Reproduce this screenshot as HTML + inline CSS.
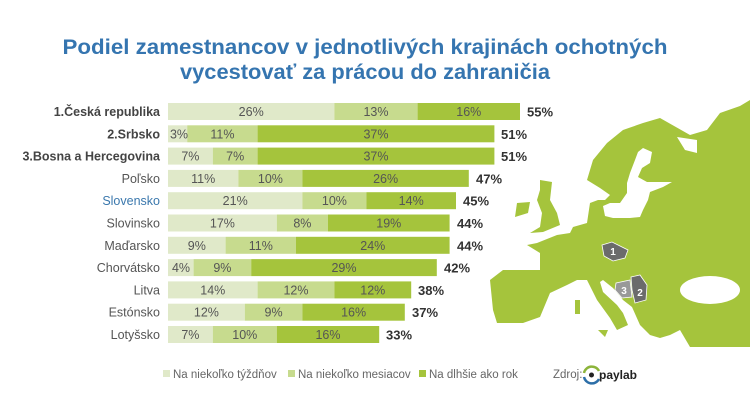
<!DOCTYPE html>
<html><head><meta charset="utf-8"><style>
html,body{margin:0;padding:0;background:#fff;}
svg{display:block;font-family:"Liberation Sans",sans-serif;}
.l{font-size:12.5px;fill:#555;text-anchor:end}
.b{font-weight:bold;fill:#444}
.v{font-size:12.5px;fill:#555;text-anchor:middle}
.t{font-size:13px;font-weight:bold;fill:#333}
.g{font-size:11.5px;fill:#666}
</style></head><body>
<svg width="750" height="415" viewBox="0 0 750 415">
<rect width="750" height="415" fill="#fff"/>
<!-- map -->
<g fill="#a5c43c">
<polygon points="490,280 503,270 540,270 540,253 527,245 537,243 557,235 570,233 573,227 587,223 590,203 598,200 605,200 610,195 600,188 587,180 593,160 607,143 623,130 643,123 660,118 690,135 707,130 720,113 740,106 750,100 750,347 690,347 680,330 670,335 660,338 650,335 640,325 632,307 623,300 613,288 603,280 600,282 603,292 617,305 623,313 628,325 617,330 610,318 597,300 587,280 577,280 567,285 550,293 540,317 523,323 497,323 493,310"/>
<polygon points="540,180 552,182 550,200 557,213 560,225 543,232 530,233 540,227 542,213 537,200 540,190"/>
<polygon points="517,203 530,202 528,213 515,217"/>
<polygon points="598,330 608,330 605,337"/>
<polygon points="575,300 580,300 580,314 575,314"/>
</g>
<g fill="#fff">
<polygon points="643,148 652,152 650,163 642,168 638,177 647,182 663,182 672,182 663,187 650,192 648,200 643,210 640,217 630,218 613,218 605,216 603,206 610,203 620,203 627,193 627,183 630,173 635,160 638,152"/>
<polygon points="677,137 697,140 697,153 685,150"/>
<ellipse cx="710" cy="290" rx="30" ry="14"/>
</g>
<polygon points="602,245 612,242 620,246 628,250 625,258 613,261 604,256" fill="#6b6b6b" stroke="#fff" stroke-width="0.8"/>
<polygon points="616,283 630,280 632,297 622,298 615,290" fill="#999" stroke="#fff" stroke-width="0.8"/>
<polygon points="631,277 640,275 647,285 646,300 635,303 632,290" fill="#6b6b6b" stroke="#fff" stroke-width="0.8"/>
<g font-size="10" font-weight="bold" fill="#fff" text-anchor="middle">
<text x="613" y="255">1</text><text x="624" y="294">3</text><text x="640" y="296">2</text></g>
<!-- title -->
<text x="365" y="54" text-anchor="middle" font-size="21" font-weight="bold" fill="#3575b0" textLength="605" lengthAdjust="spacingAndGlyphs">Podiel zamestnancov v jednotlivých krajinách ochotných</text>
<text x="365" y="79" text-anchor="middle" font-size="21" font-weight="bold" fill="#3575b0" textLength="370" lengthAdjust="spacingAndGlyphs">vycestovať za prácou do zahraničia</text>
<!-- rows -->
<g>
<g transform="translate(0,103)">
<text class="l b" x="160" y="13">1.Česká republika</text>
<rect x="168" y="0" width="166.4" height="17" fill="#e0e9c9"/><rect x="334.4" y="0" width="83.2" height="17" fill="#c7db8e"/><rect x="417.6" y="0" width="102.4" height="17" fill="#a5c43c"/>
<text class="v" x="251.2" y="13">26%</text><text class="v" x="376" y="13">13%</text><text class="v" x="468.8" y="13">16%</text><text class="t" x="527" y="13.5">55%</text></g>
<g transform="translate(0,125.3)">
<text class="l b" x="160" y="13">2.Srbsko</text>
<rect x="168" y="0" width="19.2" height="17" fill="#e0e9c9"/><rect x="187.2" y="0" width="70.4" height="17" fill="#c7db8e"/><rect x="257.6" y="0" width="236.8" height="17" fill="#a5c43c"/>
<text class="v" x="179" y="13">3%</text><text class="v" x="222.4" y="13">11%</text><text class="v" x="376" y="13">37%</text><text class="t" x="501" y="13.5">51%</text></g>
<g transform="translate(0,147.6)">
<text class="l b" x="160" y="13">3.Bosna a Hercegovina</text>
<rect x="168" y="0" width="44.8" height="17" fill="#e0e9c9"/><rect x="212.8" y="0" width="44.8" height="17" fill="#c7db8e"/><rect x="257.6" y="0" width="236.8" height="17" fill="#a5c43c"/>
<text class="v" x="190.4" y="13">7%</text><text class="v" x="235.2" y="13">7%</text><text class="v" x="376" y="13">37%</text><text class="t" x="501" y="13.5">51%</text></g>
<g transform="translate(0,169.9)">
<text class="l" x="160" y="13">Poľsko</text>
<rect x="168" y="0" width="70.4" height="17" fill="#e0e9c9"/><rect x="238.4" y="0" width="64" height="17" fill="#c7db8e"/><rect x="302.4" y="0" width="166.4" height="17" fill="#a5c43c"/>
<text class="v" x="203.2" y="13">11%</text><text class="v" x="270.4" y="13">10%</text><text class="v" x="385.6" y="13">26%</text><text class="t" x="476" y="13.5">47%</text></g>
<g transform="translate(0,192.2)">
<text class="l" x="160" y="13" style="fill:#3b78ad">Slovensko</text>
<rect x="168" y="0" width="134.4" height="17" fill="#e0e9c9"/><rect x="302.4" y="0" width="64" height="17" fill="#c7db8e"/><rect x="366.4" y="0" width="89.6" height="17" fill="#a5c43c"/>
<text class="v" x="235.2" y="13">21%</text><text class="v" x="334.4" y="13">10%</text><text class="v" x="411.2" y="13">14%</text><text class="t" x="463" y="13.5">45%</text></g>
<g transform="translate(0,214.5)">
<text class="l" x="160" y="13">Slovinsko</text>
<rect x="168" y="0" width="108.8" height="17" fill="#e0e9c9"/><rect x="276.8" y="0" width="51.2" height="17" fill="#c7db8e"/><rect x="328" y="0" width="121.6" height="17" fill="#a5c43c"/>
<text class="v" x="222.4" y="13">17%</text><text class="v" x="302.4" y="13">8%</text><text class="v" x="388.8" y="13">19%</text><text class="t" x="457" y="13.5">44%</text></g>
<g transform="translate(0,236.8)">
<text class="l" x="160" y="13">Maďarsko</text>
<rect x="168" y="0" width="57.6" height="17" fill="#e0e9c9"/><rect x="225.6" y="0" width="70.4" height="17" fill="#c7db8e"/><rect x="296" y="0" width="153.6" height="17" fill="#a5c43c"/>
<text class="v" x="196.8" y="13">9%</text><text class="v" x="260.8" y="13">11%</text><text class="v" x="372.8" y="13">24%</text><text class="t" x="457" y="13.5">44%</text></g>
<g transform="translate(0,259.1)">
<text class="l" x="160" y="13">Chorvátsko</text>
<rect x="168" y="0" width="25.6" height="17" fill="#e0e9c9"/><rect x="193.6" y="0" width="57.6" height="17" fill="#c7db8e"/><rect x="251.2" y="0" width="185.6" height="17" fill="#a5c43c"/>
<text class="v" x="181" y="13">4%</text><text class="v" x="222.4" y="13">9%</text><text class="v" x="344" y="13">29%</text><text class="t" x="444" y="13.5">42%</text></g>
<g transform="translate(0,281.4)">
<text class="l" x="160" y="13">Litva</text>
<rect x="168" y="0" width="89.6" height="17" fill="#e0e9c9"/><rect x="257.6" y="0" width="76.8" height="17" fill="#c7db8e"/><rect x="334.4" y="0" width="76.8" height="17" fill="#a5c43c"/>
<text class="v" x="212.8" y="13">14%</text><text class="v" x="296" y="13">12%</text><text class="v" x="372.8" y="13">12%</text><text class="t" x="418" y="13.5">38%</text></g>
<g transform="translate(0,303.7)">
<text class="l" x="160" y="13">Estónsko</text>
<rect x="168" y="0" width="76.8" height="17" fill="#e0e9c9"/><rect x="244.8" y="0" width="57.6" height="17" fill="#c7db8e"/><rect x="302.4" y="0" width="102.4" height="17" fill="#a5c43c"/>
<text class="v" x="206.4" y="13">12%</text><text class="v" x="273.6" y="13">9%</text><text class="v" x="353.6" y="13">16%</text><text class="t" x="412" y="13.5">37%</text></g>
<g transform="translate(0,326)">
<text class="l" x="160" y="13">Lotyšsko</text>
<rect x="168" y="0" width="44.8" height="17" fill="#e0e9c9"/><rect x="212.8" y="0" width="64" height="17" fill="#c7db8e"/><rect x="276.8" y="0" width="102.4" height="17" fill="#a5c43c"/>
<text class="v" x="190.4" y="13">7%</text><text class="v" x="244.8" y="13">10%</text><text class="v" x="328" y="13">16%</text><text class="t" x="386" y="13.5">33%</text></g>
</g>
<!-- legend -->
<rect x="163" y="370" width="7" height="7" fill="#e0e9c9"/><text class="g" x="173" y="378">Na niekoľko týždňov</text>
<rect x="288" y="370" width="7" height="7" fill="#c7db8e"/><text class="g" x="298" y="378">Na niekoľko mesiacov</text>
<rect x="419" y="370" width="7" height="7" fill="#a5c43c"/><text class="g" x="429" y="378">Na dlhšie ako rok</text>
<text class="g" x="553" y="378" font-size="10.5">Zdroj:</text>
<path d="M584,373 a8,8 0 0 1 15,-2" fill="none" stroke="#8cb43a" stroke-width="2.5"/>
<path d="M584,377 a8,8 0 0 0 15,2" fill="none" stroke="#2d6fa8" stroke-width="2.5"/>
<circle cx="591.5" cy="375" r="2.5" fill="#222"/>
<text x="599" y="379" font-size="12" font-weight="bold" fill="#222">paylab</text>
</svg>
</body></html>
